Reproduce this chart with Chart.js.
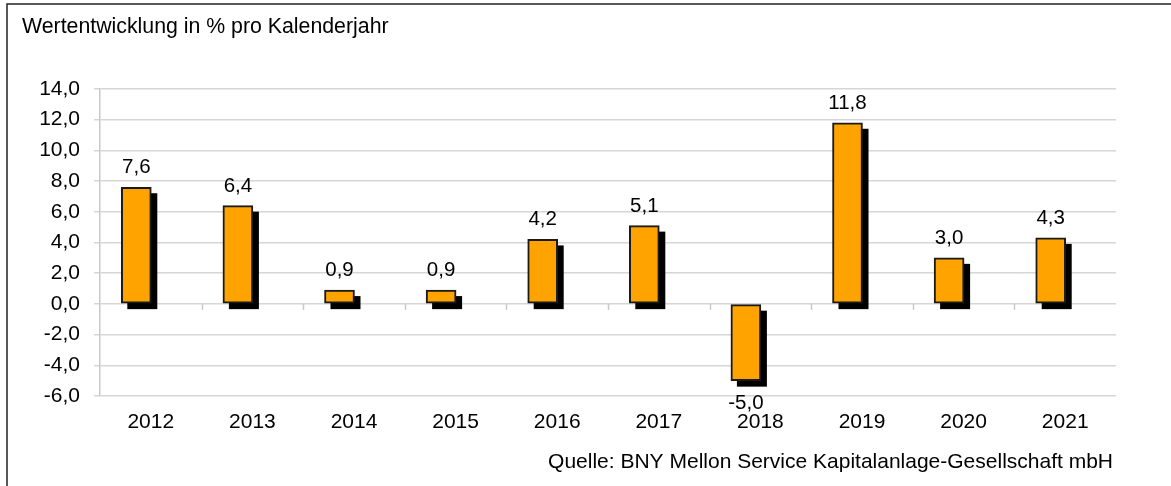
<!DOCTYPE html>
<html lang="de">
<head>
    <meta charset="UTF-8">
    <title>Wertentwicklung</title>
    <script src="https://cdn.jsdelivr.net/npm/chart.js"></script>
    <style>
        body { margin: 0; background: #fff; }
        .chart-container { position: relative; width: 1171px; height: 486px; }
    </style>
</head>
<body>
    <div class="chart-container">
        <canvas id="perfChart"></canvas>
    </div>

    <script>
        // Data
        const years = ['2012', '2013', '2014', '2015', '2016', '2017', '2018', '2019', '2020', '2021'];
        const returns = [7.6, 6.4, 0.9, 0.9, 4.2, 5.1, -5.0, 11.8, 3.0, 4.3];
        const yMin = -6;
        const yMax = 14;
        const yStep = 2;

        const titleText = 'Wertentwicklung in % pro Kalenderjahr';
        const sourceText = 'Quelle: BNY Mellon Service Kapitalanlage-Gesellschaft mbH';

        const fontFamily = "'Liberation Sans', Arial, sans-serif";
        const gridColor = '#d6d6d6';

        function fmt(v) {
            return v.toFixed(1).replace('.', ',');
        }

        // Bars sit a bit left of the category centre, with a black drop shadow
        const barLook = {
            id: 'barLook',
            afterDatasetsUpdate(chart) {
                chart.getDatasetMeta(0).data.forEach(bar => { bar.x -= 14.5; });
            },
            beforeDatasetsDraw(chart) {
                const ctx = chart.ctx;
                const area = chart.chartArea;
                const y0 = chart.scales.y.getPixelForValue(0);
                // small tick marks on the zero line between categories
                ctx.save();
                ctx.strokeStyle = '#c8c8c8';
                ctx.lineWidth = 1.5;
                const step = (area.right - area.left) / years.length;
                for (let i = 1; i < years.length; i++) {
                    const x = Math.round(area.left + i * step) + 0.5;
                    ctx.beginPath();
                    ctx.moveTo(x, y0);
                    ctx.lineTo(x, y0 + 6);
                    ctx.stroke();
                }
                // shadows
                ctx.fillStyle = '#000';
                chart.getDatasetMeta(0).data.forEach(bar => {
                    const p = bar.getProps(['x', 'y', 'base', 'width'], true);
                    const top = Math.min(p.y, p.base) + 6;
                    const bottom = Math.max(p.y, p.base) + 6;
                    ctx.fillRect(p.x - p.width / 2 + 6, top, p.width, bottom - top);
                });
                ctx.restore();
            },
            afterDatasetsDraw(chart) {
                const ctx = chart.ctx;
                ctx.save();
                ctx.font = '20.5px ' + fontFamily;
                ctx.fillStyle = '#000';
                ctx.textAlign = 'center';
                chart.getDatasetMeta(0).data.forEach((bar, i) => {
                    const p = bar.getProps(['x', 'y', 'base'], true);
                    if (returns[i] >= 0) {
                        ctx.textBaseline = 'alphabetic';
                        ctx.fillText(fmt(returns[i]), p.x, p.y - 14);
                    } else {
                        ctx.textBaseline = 'top';
                        ctx.fillText(fmt(returns[i]), p.x, p.y + 12);
                    }
                });
                ctx.restore();
            },
            afterDraw(chart) {
                const ctx = chart.ctx;
                ctx.save();
                // frame (top and left edge)
                ctx.strokeStyle = '#222';
                ctx.lineWidth = 1.5;
                ctx.beginPath();
                ctx.moveTo(7, 486);
                ctx.lineTo(7, 4);
                ctx.lineTo(1171, 4);
                ctx.stroke();
                ctx.fillStyle = '#000';
                ctx.font = '21.3px ' + fontFamily;
                ctx.textBaseline = 'alphabetic';
                ctx.textAlign = 'left';
                ctx.fillText(titleText, 22, 33);
                ctx.font = '21px ' + fontFamily;
                ctx.textAlign = 'right';
                ctx.fillText(sourceText, 1113, 468);
                ctx.restore();
            }
        };

        const ctx = document.getElementById('perfChart').getContext('2d');
        new Chart(ctx, {
            type: 'bar',
            data: {
                labels: years,
                datasets: [{
                    data: returns,
                    backgroundColor: '#FFA300',
                    borderColor: '#1a1a1a',
                    borderWidth: 2,
                    borderSkipped: false,
                    barThickness: 30
                }]
            },
            options: {
                responsive: true,
                maintainAspectRatio: false,
                animation: false,
                layout: {
                    autoPadding: false,
                    padding: { left: 0, right: 55, top: 89, bottom: 40 }
                },
                plugins: {
                    legend: { display: false },
                    tooltip: { enabled: false }
                },
                scales: {
                    x: {
                        afterFit: scale => { scale.height = 50; },
                        grid: { display: false },
                        border: { display: false },
                        ticks: {
                            color: '#000',
                            padding: 6,
                            font: { family: fontFamily, size: 21 }
                        }
                    },
                    y: {
                        min: yMin,
                        max: yMax,
                        afterFit: scale => { scale.width = 100; },
                        grid: {
                            color: gridColor,
                            lineWidth: 1.5,
                            tickLength: 6
                        },
                        border: { color: '#c8c8c8', width: 1.5 },
                        ticks: {
                            stepSize: yStep,
                            color: '#000',
                            padding: 14,
                            font: { family: fontFamily, size: 21 },
                            callback: v => fmt(v)
                        }
                    }
                }
            },
            plugins: [barLook]
        });
    </script>
</body>
</html>
